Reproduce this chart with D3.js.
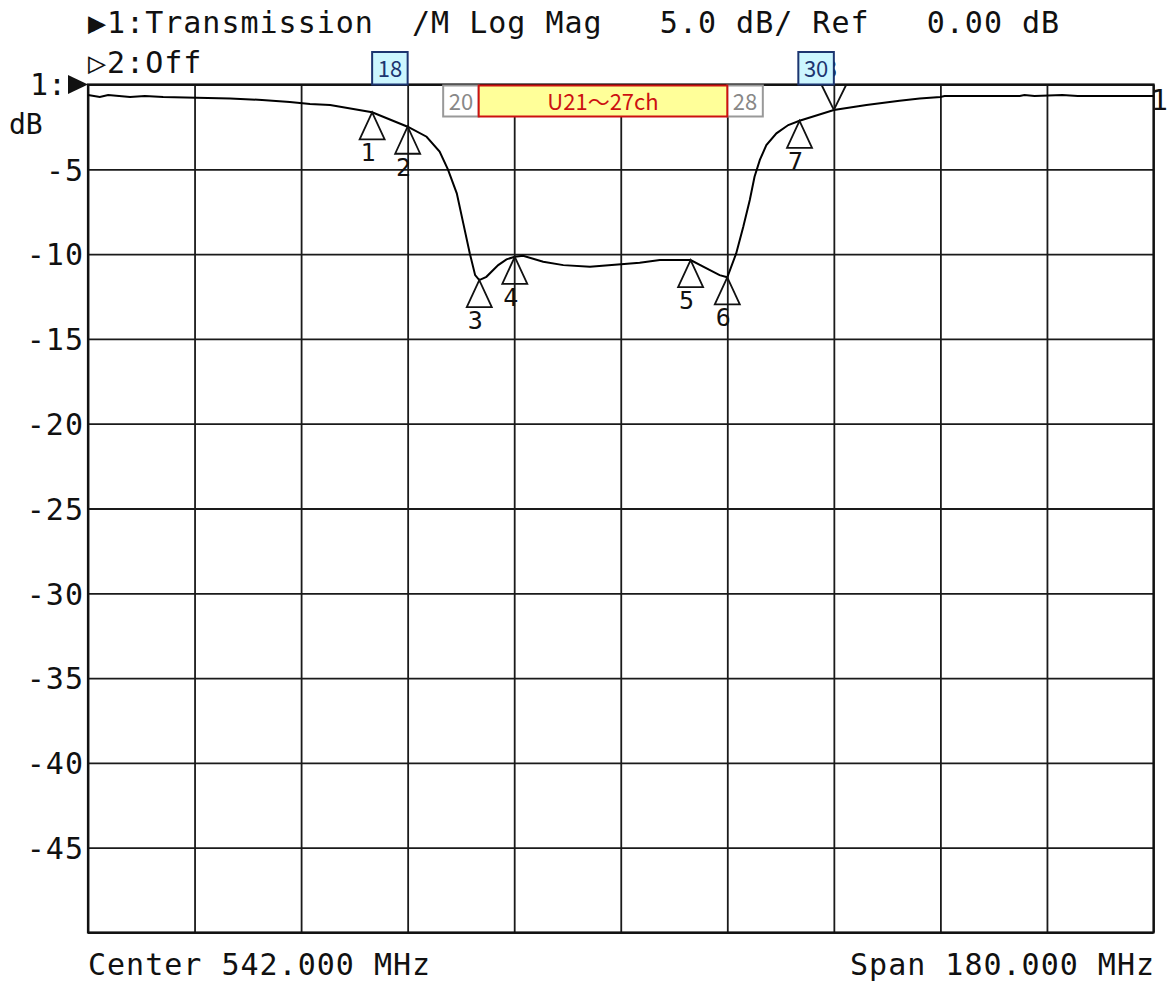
<!DOCTYPE html>
<html>
<head>
<meta charset="utf-8">
<script src="https://cdn.jsdelivr.net/npm/d3@7"></script>
<style>
  html, body { margin: 0; padding: 0; background: #fff; }
  svg { display: block; }
  .mono { font-family: "DejaVu Sans Mono", "Liberation Mono", monospace; white-space: pre; fill: #111; }
  .grid line { stroke: #1a1a1a; stroke-width: 1.8; }
  .grid path { display: none; }
</style>
</head>
<body>
<svg width="1170" height="981"></svg>
<script>
// trace 1: transmission (MHz, dB)
var freqs = [452, 454, 455.4, 459.1, 461.6, 464.7, 476, 481.4, 486.1, 489.5, 492.9, 500, 506,
  509.2, 511.4, 512.8, 514.3, 515.4, 516.5, 517.4, 518.1, 519.3, 521.3, 522.7, 524.1, 525.5,
  528.9, 532.3, 536.8, 545.2, 548.6, 553.8, 556.5, 558.7, 560, 561.5, 562.7, 563.8, 564.6,
  565.5, 566.6, 568.3, 570.3, 572.2, 578, 583.5, 589.1, 592.5, 596, 596.7, 609.4, 610.2,
  611.9, 616.6, 619.2, 632];
var dbs = [-0.62, -0.74, -0.62, -0.74, -0.68, -0.74, -0.83, -0.91, -1.03, -1.15, -1.21, -1.64, -2.49,
  -3.08, -3.96, -5.0, -6.42, -8.19, -9.96, -11.24, -11.53, -11.34, -10.65, -10.31, -10.16, -10.10,
  -10.45, -10.65, -10.75, -10.51, -10.35, -10.35, -10.84, -11.24, -11.37, -9.96, -8.39, -6.81, -5.44,
  -4.45, -3.57, -2.88, -2.39, -2.14, -1.5, -1.21, -0.96, -0.83, -0.74, -0.68, -0.68, -0.62,
  -0.68, -0.62, -0.68, -0.68];

// markers
var markerNums = [1, 2, 3, 4, 5, 6, 7, 8];
var markerFreqs = [500, 506, 518.1, 524.1, 553.8, 560, 572.2, 578];
var markerDbs = [-1.64, -2.49, -11.53, -10.16, -10.35, -11.37, -2.14, -1.5];

// channel annotations
var chanLabels = ["18", "30"];
var chanLo = [500, 572];
var chanHi = [506, 578];
var edgeLabels = ["20", "28"];
var edgeLo = [512, 560];
var edgeHi = [518, 566];
var bandLabel = "U21～27ch";
var bandRange = [518, 560];

var yTicks = [0, -5, -10, -15, -20, -25, -30, -35, -40, -45, -50];
var xTicks = [452, 470, 488, 506, 524, 542, 560, 578, 596, 614, 632];

var headerLine1 = "▶1:Transmission  /M Log Mag   5.0 dB/ Ref   0.00 dB";
var headerLine2 = "▷2:Off";
var footLeft = "Center 542.000 MHz";
var footRight = "Span 180.000 MHz";

var svg = d3.select("svg");
var pL = 88, pR = 1153.5, pT = 84.5, pB = 932.5;

var x = d3.scaleLinear().domain([452, 632]).range([pL, pR]);
var y = d3.scaleLinear().domain([0, -50]).range([pT, pB]);

// grid
svg.append("g")
    .attr("class", "grid")
    .attr("transform", "translate(0," + pT + ")")
    .call(d3.axisBottom(x).tickValues(xTicks).tickSize(pB - pT).tickFormat(""));

var yAxis = svg.append("g")
    .attr("class", "grid")
    .attr("transform", "translate(" + pL + ",0)")
    .call(d3.axisLeft(y).tickValues(yTicks).tickSize(-(pR - pL)).tickPadding(4)
      .tickFormat(function(d) { return (d === 0 || d === -50) ? "" : String(d); }));
yAxis.selectAll("text")
    .attr("class", "mono")
    .attr("font-size", 30)
    .attr("letter-spacing", 1)
    .attr("dy", "0.36em");

// frame
svg.append("rect")
    .attr("x", pL).attr("y", pT)
    .attr("width", pR - pL).attr("height", pB - pT)
    .attr("fill", "none").attr("stroke", "#111").attr("stroke-width", 2.2);

// trace
var traceData = d3.zip(freqs, dbs);
svg.append("path")
    .datum(traceData)
    .attr("fill", "none")
    .attr("stroke", "#000")
    .attr("stroke-width", 2)
    .attr("d", d3.line().x(function(d) { return x(d[0]); }).y(function(d) { return y(d[1]); }));

// markers
var mk = svg.append("g");
markerNums.forEach(function(n, i) {
  var px = x(markerFreqs[i]), py = y(markerDbs[i]);
  if (n === 8) {
    mk.append("path")
      .attr("d", "M" + px + "," + py + "L" + (px - 12.5) + "," + pT + "M" + px + "," + py + "L" + (px + 12.5) + "," + pT)
      .attr("fill", "none").attr("stroke", "#111").attr("stroke-width", 1.8);
    mk.append("text").attr("class", "mono")
      .attr("x", px - 4).attr("y", 78)
      .attr("text-anchor", "middle").attr("font-size", 25)
      .text(n);
  } else {
    mk.append("path")
      .attr("d", "M" + px + "," + py + "L" + (px - 12.5) + "," + (py + 27) + "L" + (px + 12.5) + "," + (py + 27) + "Z")
      .attr("fill", "none").attr("stroke", "#111").attr("stroke-width", 1.8);
    mk.append("text").attr("class", "mono")
      .attr("x", px - 4).attr("y", py + 49)
      .attr("text-anchor", "middle").attr("font-size", 25)
      .text(n);
  }
});

// channel boxes
var boxFont = "'Noto Sans CJK JP', 'Noto Sans', sans-serif";
chanLabels.forEach(function(lbl, i) {
  var x0 = x(chanLo[i]), x1 = x(chanHi[i]);
  svg.append("rect")
    .attr("x", x0).attr("y", 52).attr("width", x1 - x0).attr("height", pT - 52)
    .attr("fill", "#ccf6ff").attr("stroke", "#1c3570").attr("stroke-width", 2);
  svg.append("text")
    .attr("x", (x0 + x1) / 2).attr("y", 77)
    .attr("text-anchor", "middle").attr("font-family", boxFont).attr("font-size", 22)
    .attr("fill", "#1c3570").text(lbl);
});
edgeLabels.forEach(function(lbl, i) {
  var x0 = x(edgeLo[i]), x1 = x(edgeHi[i]);
  svg.append("rect")
    .attr("x", x0).attr("y", pT + 1).attr("width", x1 - x0).attr("height", 31)
    .attr("fill", "#fff").attr("stroke", "#999").attr("stroke-width", 2);
  svg.append("text")
    .attr("x", (x0 + x1) / 2).attr("y", pT + 25)
    .attr("text-anchor", "middle").attr("font-family", boxFont).attr("font-size", 22)
    .attr("fill", "#888").text(lbl);
});
svg.append("rect")
    .attr("x", x(bandRange[0])).attr("y", pT + 1)
    .attr("width", x(bandRange[1]) - x(bandRange[0])).attr("height", 31)
    .attr("fill", "#ffff99").attr("stroke", "#cc1111").attr("stroke-width", 2);
svg.append("text")
    .attr("x", (x(bandRange[0]) + x(bandRange[1])) / 2).attr("y", pT + 25)
    .attr("text-anchor", "middle").attr("font-family", boxFont).attr("font-size", 22)
    .attr("fill", "#cc1111").text(bandLabel);

// header / footer text
svg.append("text").attr("class", "mono").attr("x", 88).attr("y", 33)
    .attr("font-size", 30).attr("letter-spacing", 1).text(headerLine1);
svg.append("text").attr("class", "mono").attr("x", 88).attr("y", 73)
    .attr("font-size", 30).attr("letter-spacing", 1).text(headerLine2);
svg.append("text").attr("class", "mono").attr("x", 88).attr("y", 975)
    .attr("font-size", 30).attr("letter-spacing", 1).text(footLeft);
svg.append("text").attr("class", "mono").attr("x", 1155).attr("y", 975)
    .attr("text-anchor", "end")
    .attr("font-size", 30).attr("letter-spacing", 1).text(footRight);

// reference level indicator
svg.append("text").attr("class", "mono").attr("x", 30).attr("y", 95)
    .attr("font-size", 30).text("1:");
svg.append("path")
    .attr("d", "M68,75L88,84.5L68,94Z").attr("fill", "#111");
svg.append("text").attr("class", "mono").attr("x", 9).attr("y", 134)
    .attr("font-size", 28).text("dB");
svg.append("text").attr("class", "mono").attr("x", 1151).attr("y", 110)
    .attr("font-size", 28).text("1");
</script>
</body>
</html>
